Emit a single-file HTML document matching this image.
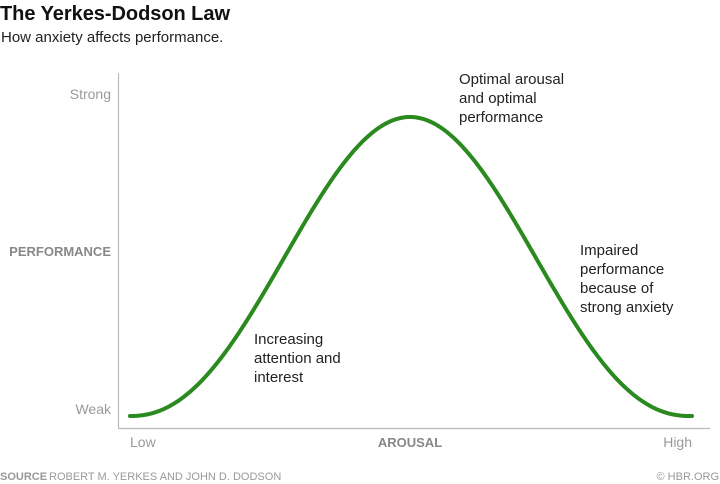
<!DOCTYPE html>
<html><head><meta charset="utf-8"><style>
html,body{margin:0;padding:0;background:#fff;width:720px;height:484px;overflow:hidden}
svg text{font-family:"Liberation Sans",sans-serif}
</style></head><body>
<svg id="s" width="720" height="484" viewBox="0 0 720 484" xmlns="http://www.w3.org/2000/svg">
<text x="0" y="20" font-size="20" font-weight="bold" fill="#111" textLength="230">The Yerkes-Dodson Law</text>
<text x="1" y="42" font-size="15" fill="#222">How anxiety affects performance.</text>
<line x1="118.5" y1="73" x2="118.5" y2="428" stroke="#bbb" stroke-width="1.2"/>
<line x1="118" y1="428.5" x2="710" y2="428.5" stroke="#bbb" stroke-width="1.2"/>
<text x="111" y="99" font-size="14" fill="#999" text-anchor="end">Strong</text>
<text x="111" y="256" font-size="13" font-weight="bold" fill="#888" text-anchor="end">PERFORMANCE</text>
<text x="111" y="414" font-size="14" fill="#999" text-anchor="end">Weak</text>
<text x="130" y="447" font-size="14" fill="#999">Low</text>
<text x="410" y="447" font-size="13" font-weight="bold" fill="#888" text-anchor="middle">AROUSAL</text>
<text x="692" y="447" font-size="14" fill="#999" text-anchor="end">High</text>
<text x="0" y="480" font-size="11" font-weight="bold" fill="#999">SOURCE</text>
<text x="49" y="480" font-size="11" fill="#999">ROBERT M. YERKES AND JOHN D. DODSON</text>
<text x="719" y="480" font-size="11" fill="#999" text-anchor="end">© HBR.ORG</text>
<path id="c" fill="none" stroke="#2a8a1f" stroke-width="4" stroke-linecap="round" d=""/>
<g font-size="15" fill="#222">
<text x="459" y="84">Optimal arousal</text>
<text x="459" y="103">and optimal</text>
<text x="459" y="122">performance</text>
<text x="580" y="255">Impaired</text>
<text x="580" y="274">performance</text>
<text x="580" y="293">because of</text>
<text x="580" y="312">strong anxiety</text>
<text x="254" y="344">Increasing</text>
<text x="254" y="363">attention and</text>
<text x="254" y="382">interest</text>
</g>
</svg>
<script>
var d="";
for(var x=130;x<=692;x+=2){var t=1-Math.abs(x-410)/280;if(t<0)t=0;t=Math.pow(t,1.1);var f=(1-Math.cos(Math.PI*t))/2;var y=416-299*f;d+=(x==130?"M":"L")+x+","+y.toFixed(2);}
document.getElementById("c").setAttribute("d",d);
</script>
</body></html>
